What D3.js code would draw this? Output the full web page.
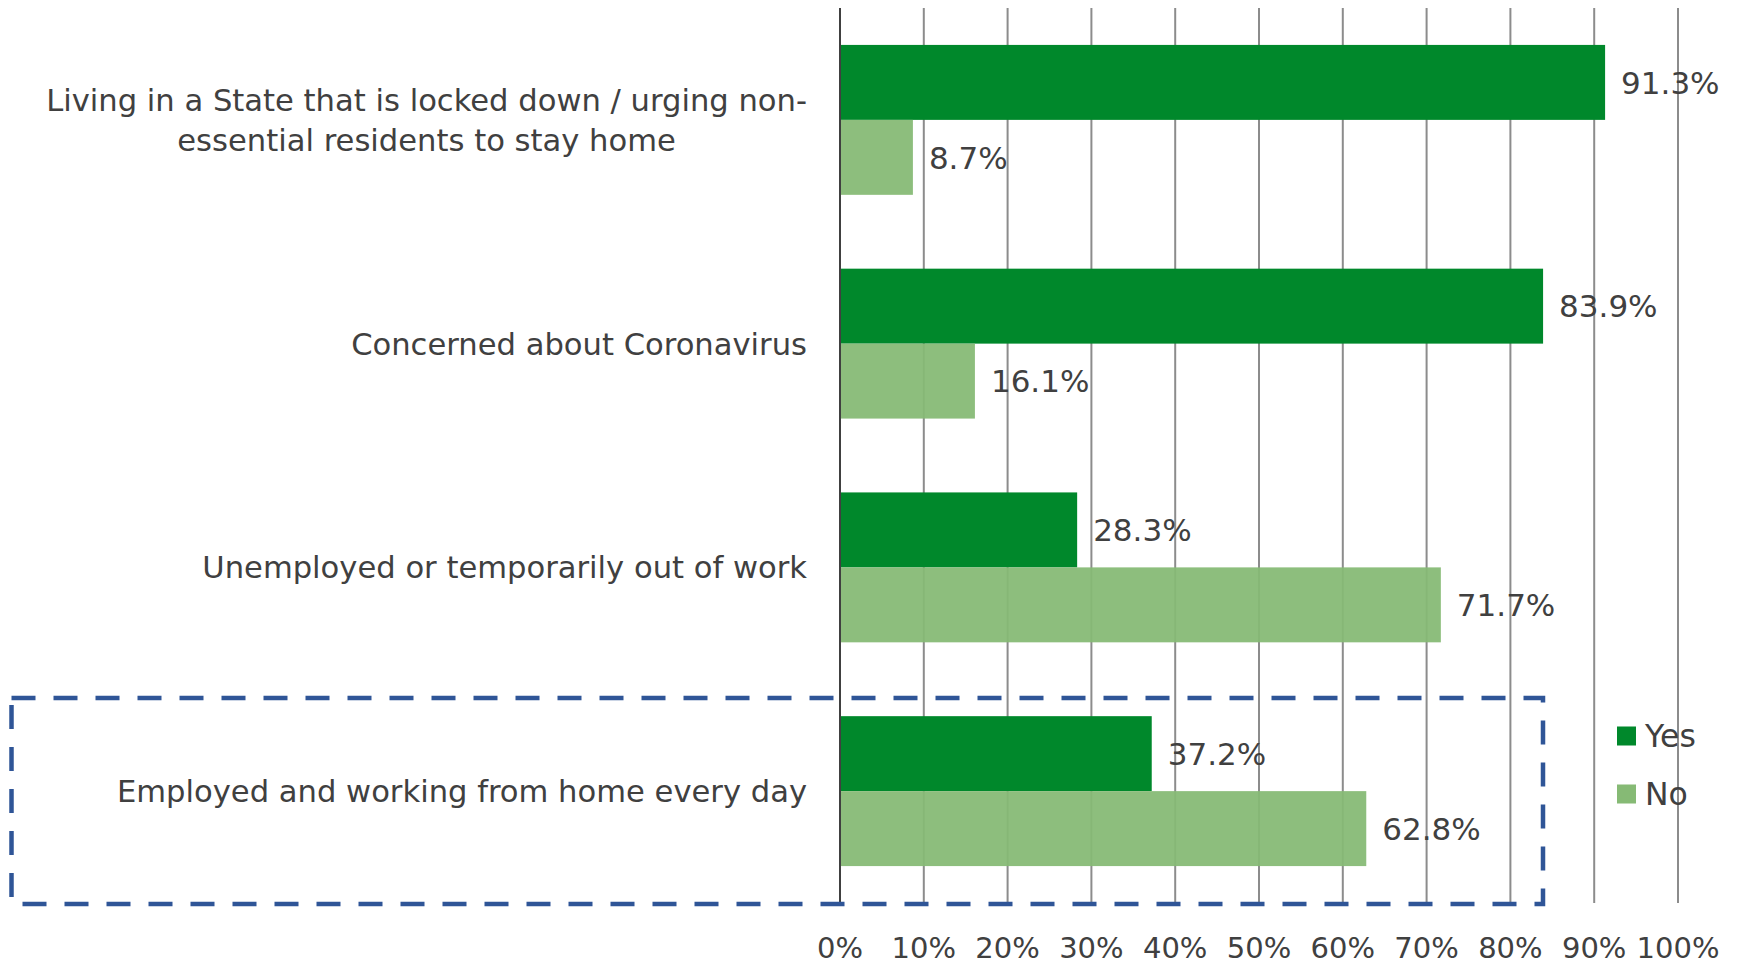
<!DOCTYPE html>
<html><head><meta charset="utf-8">
<script src="https://cdn.jsdelivr.net/npm/d3@7/dist/d3.min.js"></script>
<style>body{margin:0;background:#fff;} text{font-family:"DejaVu Sans",sans-serif;fill:#404040;}</style>
</head><body>
<svg id="c" width="1737" height="966"></svg>
<script>
const categories = [
  ["Living in a State that is locked down / urging non-", "essential residents to stay home"],
  ["Concerned about Coronavirus"],
  ["Unemployed or temporarily out of work"],
  ["Employed and working from home every day"]
];
const seriesNames = ["Yes", "No"];
const yesValues = [91.3, 83.9, 28.3, 37.2];
const noValues = [8.7, 16.1, 71.7, 62.8];
const tickValues = [0,10,20,30,40,50,60,70,80,90,100];
const colors = {Yes:"#00882B", No:"#86BA75"};

const svg = d3.select("#c");
const x = d3.scaleLinear().domain([0,100]).range([840,1678]);
const y = d3.scaleBand().domain(d3.range(categories.length)).range([8,903]);
const groupH = y.bandwidth()*0.67;
const sub = d3.scaleBand().domain(seriesNames).range([0, groupH]);

// gridlines
svg.append("g").selectAll("line").data(tickValues.filter(d=>d>0)).join("line")
  .attr("x1",d=>x(d)).attr("x2",d=>x(d)).attr("y1",8).attr("y2",903)
  .attr("stroke","#8c8c8c").attr("stroke-width",2);

const rows = categories.map((c,i)=>({i, Yes:yesValues[i], No:noValues[i]}));
const g = svg.append("g");
seriesNames.forEach(s=>{
  g.selectAll("rect."+s).data(rows).join("rect").attr("class",s)
   .attr("x",x(0)).attr("y",d=>y(d.i)+(y.bandwidth()-groupH)/2+sub(s))
   .attr("width",d=>x(d[s])-x(0)).attr("height",sub.bandwidth())
   .attr("fill",colors[s]).attr("fill-opacity", s==="No"?0.94:1);
  g.selectAll("text."+s).data(rows).join("text").attr("class",s)
   .attr("x",d=>x(d[s])+16).attr("y",d=>y(d.i)+(y.bandwidth()-groupH)/2+sub(s)+sub.bandwidth()/2)
   .attr("dy","0.36em").attr("font-size",31).text(d=>d[s].toFixed(1)+"%");
});

// axis line
svg.append("line").attr("x1",x(0)).attr("x2",x(0)).attr("y1",8).attr("y2",903)
  .attr("stroke","#404040").attr("stroke-width",2);

// category labels
categories.forEach((lines,i)=>{
  const cy = y(i)+y.bandwidth()/2;
  const t = svg.append("text").attr("font-size",30.6);
  const lh = 40;
  lines.forEach((ln,k)=>{
    t.append("tspan").attr("x", 807).attr("y", cy + (k-(lines.length-1)/2)*lh).attr("dy","0.36em").text(ln);
  });
  if(lines.length>1){
    t.attr("text-anchor","middle");
    const w = d3.max(t.selectAll("tspan").nodes(), n=>n.getComputedTextLength());
    t.selectAll("tspan").attr("x", 807 - w/2);
  } else {
    t.attr("text-anchor","end");
  }
});

// x tick labels
svg.append("g").selectAll("text").data(tickValues).join("text")
  .attr("x",d=>x(d)).attr("y",948).attr("dy","0.36em").attr("text-anchor","middle")
  .attr("font-size",29).text(d=>d+"%");

// legend
seriesNames.forEach((s,k)=>{
  const ly = 736 + k*58;
  svg.append("rect").attr("x",1617).attr("y",ly-9.5).attr("width",19).attr("height",19).attr("fill",colors[s]);
  svg.append("text").attr("x",1645).attr("y",ly).attr("dy","0.36em").attr("font-size",31.5).text(s);
});

// dashed highlight box
svg.append("rect").attr("x",11.5).attr("y",698).attr("width",1531.5).attr("height",206)
  .attr("fill","none").attr("stroke","#2F5597").attr("stroke-width",4.5).attr("stroke-dasharray","24 18");
</script>
</body></html>
